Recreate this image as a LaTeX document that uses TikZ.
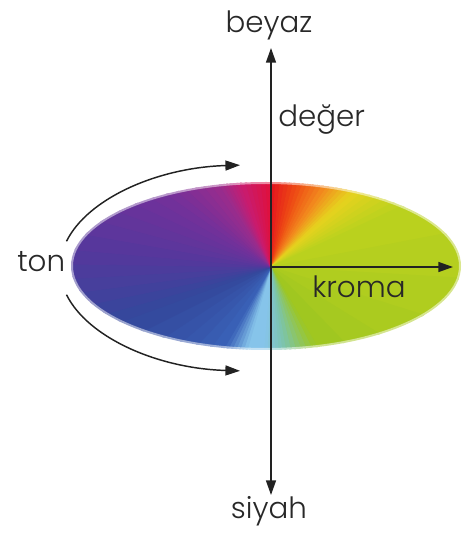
\documentclass[tikz,border=0pt]{standalone}
\usepackage{fontspec}
\setmainfont{Poppins Light}
\usepackage{tikz}
\usetikzlibrary{arrows.meta, positioning}
\definecolor{inkgray}{RGB}{34, 34, 34}
\definecolor{txtgray}{RGB}{40, 40, 40}
\definecolor{wRed}{HTML}{E3141E}
\definecolor{wRedOr}{HTML}{EE4A14}
\definecolor{wOrange}{HTML}{F28C1E}
\definecolor{wYellow}{HTML}{E6D21E}
\definecolor{wLime}{HTML}{BDD21E}
\definecolor{wGreen}{HTML}{9EC620}
\definecolor{wTeal}{HTML}{7CC4A8}
\definecolor{wSky}{HTML}{86C4EA}
\definecolor{wBlue}{HTML}{3A62B8}
\definecolor{wBlueDk}{HTML}{33489C}
\definecolor{wViolet}{HTML}{55389C}
\definecolor{wPurple}{HTML}{74309A}
\definecolor{wPlum}{HTML}{9A2C8C}
\definecolor{wMagenta}{HTML}{C81C70}
\definecolor{wCrimson}{HTML}{E0103C}

\begin{document}
\begin{tikzpicture}[x=0.75pt, y=0.75pt,
    >={Triangle[length=11pt, width=7.5pt]},
    lbl/.style={font=\fontsize{22}{26}\selectfont, text=txtgray, inner sep=0pt},
    arr/.style={draw=inkgray, line width=1.1pt}]
  \useasboundingbox (0,0) rectangle (465,533);
  \coordinate (O) at (271,266);
  \coordinate (ust) at (271,485);
  \coordinate (alt) at (271,38);
  \coordinate (kend) at (453,266);
  \coordinate (tc) at (250,265);

  % renk tekerlegi
  \begin{scope}
    \clip (266,267) ellipse (195 and 84);
    \foreach \ta/\tb/\ca/\cb in {90/72/wRed/wRedOr, 72/55/wRedOr/wOrange,
        55/42/wOrange/wYellow, 42/25/wYellow/wLime, 25/-60/wLime/wGreen,
        -60/-80/wGreen/wTeal, -80/-95/wTeal/wSky, -95/-106/wSky/wSky,
        -106/-120/wSky/wBlue, -120/-160/wBlue/wBlueDk, -160/-185/wBlueDk/wViolet,
        -185/-215/wViolet/wPurple, -215/-238/wPurple/wPlum,
        -238/-250/wPlum/wMagenta, -250/-270/wMagenta/wCrimson}{
      \foreach \i in {0,...,5}{
        \pgfmathsetmacro\aa{\ta+(\tb-\ta)*\i/6}
        \pgfmathsetmacro\ab{\ta+(\tb-\ta)*(\i+1)/6-0.6}
        \pgfmathtruncatemacro\p{round(100*(\i+0.5)/6)}
        \filldraw[\cb!\p!\ca, line width=0.6pt, line join=round] (O) -- +(\aa:400) -- +(\ab:400) -- cycle;
      }
    }
  \end{scope}
  \draw[white, line width=3pt, opacity=.5] (266,267) ellipse (195 and 84);

  % etiketler
  \node[lbl, anchor=base] (beyaz) at (269,500) {beyaz};
  \node[lbl, anchor=base] (siyah) at (269,15) {siyah};
  \node[lbl, anchor=base west] (deger) at (278,406) {değer};
  \node[lbl, anchor=base west] (ton) at (17,261) {ton};
  \node[lbl, anchor=base west] (kroma) at (312,235) {kroma};

  % eksenler
  \draw[arr, <->] (alt) -- (ust);
  \draw[arr, ->] (O) -- (kend);
  \draw[arr, ->] (tc) ++(165:190 and 103) arc[start angle=165, end angle=93, x radius=190, y radius=103];
  \draw[arr, ->] (tc) ++(195:190 and 103) arc[start angle=195, end angle=267, x radius=190, y radius=103];
\end{tikzpicture}
\end{document}
